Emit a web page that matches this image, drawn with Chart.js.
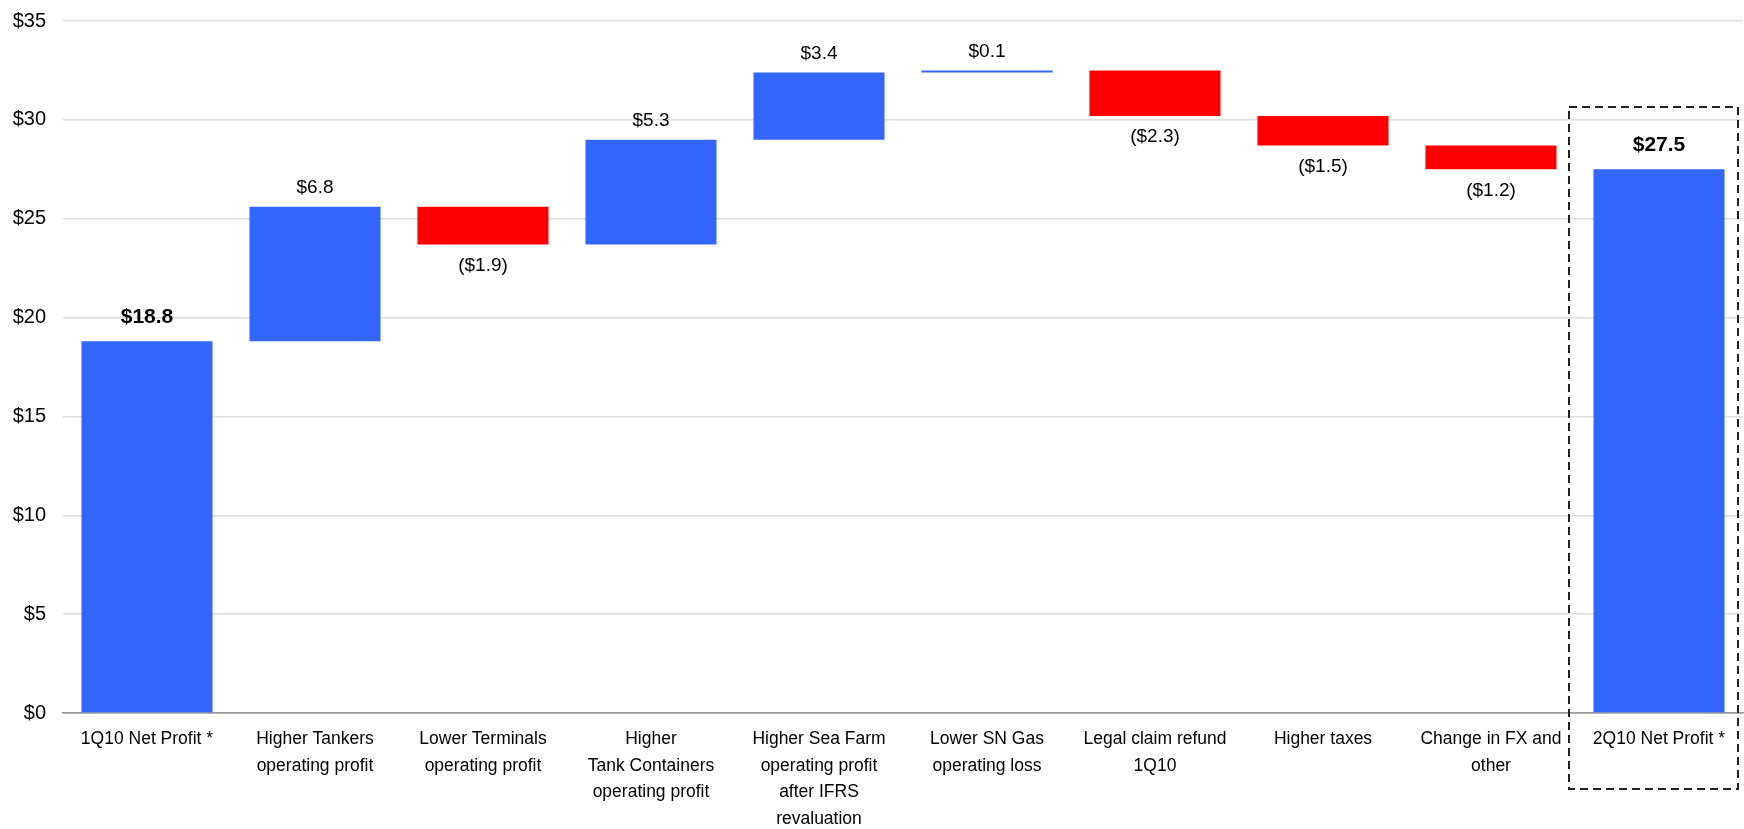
<!DOCTYPE html>
<html>
<head>
<meta charset="utf-8">
<script src="https://cdn.jsdelivr.net/npm/chart.js@4/dist/chart.umd.min.js"></script>
<style>
  html, body { margin: 0; padding: 0; background: #fff; }
  canvas { display: block; }
</style>
</head>
<body>
<canvas id="bridge" width="1744" height="829"></canvas>
<script>
// categories of the profit bridge (multi-line axis labels)
const categories = [
  ['1Q10 Net Profit *'],
  ['Higher Tankers', 'operating profit'],
  ['Lower Terminals', 'operating profit'],
  ['Higher', 'Tank Containers', 'operating profit'],
  ['Higher Sea Farm', 'operating profit', 'after IFRS', 'revaluation'],
  ['Lower SN Gas', 'operating loss'],
  ['Legal claim refund', '1Q10'],
  ['Higher taxes'],
  ['Change in FX and', 'other'],
  ['2Q10 Net Profit *']
];

// start / end totals and the changes in between ($ millions)
const changes = [18.8, 6.8, -1.9, 5.3, 3.4, 0.1, -2.3, -1.5, -1.2, 27.5];
const isTotal = [true, false, false, false, false, false, false, false, false, true];
const valueLabels = ['$18.8', '$6.8', '($1.9)', '$5.3', '$3.4', '$0.1', '($2.3)', '($1.5)', '($1.2)', '$27.5'];

const yMin = 0;
const yMax = 35;
const yStep = 5;

const BLUE = '#3366ff';
const RED = '#ff0000';
const FONT = '"Liberation Sans", Arial, sans-serif';

// floating bars: totals start at zero, changes start at the running sum
const ranges = [];
let running = 0;
changes.forEach((v, i) => {
  if (isTotal[i]) {
    ranges.push([0, v]);
    running = v;
  } else {
    ranges.push([running, running + v]);
    running += v;
  }
});
const colors = changes.map((v, i) => (isTotal[i] || v >= 0) ? BLUE : RED);

const valueLabelPlugin = {
  id: 'valueLabels',
  afterDatasetsDraw(chart) {
    const ctx = chart.ctx;
    const meta = chart.getDatasetMeta(0);
    ctx.save();
    ctx.textAlign = 'center';
    ctx.textBaseline = 'middle';
    ctx.fillStyle = '#000';
    meta.data.forEach((bar, i) => {
      const top = Math.min(bar.y, bar.base);
      const bottom = Math.max(bar.y, bar.base);
      if (isTotal[i]) {
        ctx.font = 'bold 21px ' + FONT;
        ctx.fillText(valueLabels[i], bar.x, top - 24);
      } else if (changes[i] >= 0) {
        ctx.font = '19px ' + FONT;
        ctx.fillText(valueLabels[i], bar.x, top - 19);
      } else {
        ctx.font = '19px ' + FONT;
        ctx.fillText(valueLabels[i], bar.x, bottom + 21);
      }
    });
    ctx.restore();
  }
};

// dashed frame around the closing total
const frameBoxPlugin = {
  id: 'frameBox',
  afterDraw(chart) {
    const x = chart.scales.x;
    const area = chart.chartArea;
    const last = categories.length - 1;
    const half = (x.getPixelForValue(1) - x.getPixelForValue(0)) / 2;
    const cx = x.getPixelForValue(last);
    const left = cx - half - 6;
    const right = cx + half - 5;
    const top = area.top + 86;
    const bottom = area.bottom + 76;
    const ctx = chart.ctx;
    ctx.save();
    ctx.strokeStyle = '#222';
    ctx.lineWidth = 2;
    ctx.setLineDash([8, 5]);
    ctx.strokeRect(left, top, right - left, bottom - top);
    ctx.restore();
  }
};

new Chart(document.getElementById('bridge').getContext('2d'), {
  type: 'bar',
  data: {
    labels: categories,
    datasets: [{
      data: ranges,
      backgroundColor: colors,
      borderWidth: 0,
      borderSkipped: false,
      categoryPercentage: 1,
      barPercentage: 0.78,
      minBarLength: 2
    }]
  },
  options: {
    responsive: false,
    animation: false,
    layout: { padding: { top: 21, right: 1, left: 0, bottom: 0 } },
    plugins: {
      legend: { display: false },
      tooltip: { enabled: false }
    },
    scales: {
      x: {
        grid: { display: false, drawTicks: false },
        border: { display: true, color: '#9a9a9a', width: 1.5 },
        ticks: {
          autoSkip: false,
          maxRotation: 0,
          minRotation: 0,
          padding: 13,
          color: '#000',
          font: { family: FONT, size: 17.5, lineHeight: 1.52 }
        },
        afterFit(scale) { scale.height = 116; }
      },
      y: {
        min: yMin,
        max: yMax,
        grid: {
          drawTicks: false,
          color: (c) => c.tick && c.tick.value === 0 ? '#9a9a9a' : '#dedede',
          lineWidth: 1.5
        },
        border: { display: false },
        ticks: {
          stepSize: yStep,
          padding: 17,
          color: '#000',
          font: { family: FONT, size: 20 },
          callback: (v) => '$' + v
        },
        afterFit(scale) {
          scale.width = 63;
          scale.paddingTop = 0;
        }
      }
    }
  },
  plugins: [valueLabelPlugin, frameBoxPlugin]
});
</script>
</body>
</html>
